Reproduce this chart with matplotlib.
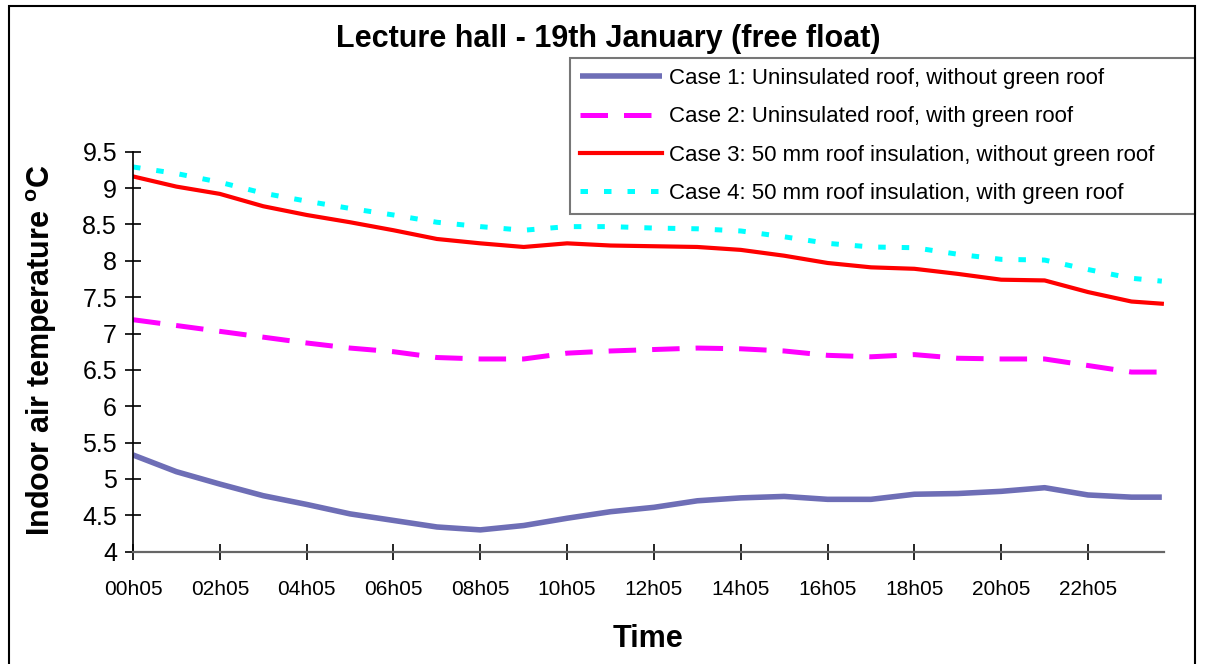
"""Lecture hall free-float indoor temperature, 19th January - four roof cases."""
import matplotlib
matplotlib.use("Agg")
import matplotlib.pyplot as plt
from matplotlib.patches import Rectangle

plt.rcParams["font.family"] = ["Liberation Sans", "DejaVu Sans"]
plt.rcParams["mathtext.fontset"] = "custom"
plt.rcParams["mathtext.rm"] = "Liberation Sans"
plt.rcParams["mathtext.bf"] = "Liberation Sans:bold"

# hours after 00h05 (roughly hourly)
hours = [0, 1, 2, 3, 4, 5, 6, 7, 8, 9, 10, 11, 12, 13, 14, 15, 16, 17,
         18, 19, 20, 21, 22, 23, 23.7]

case1 = [5.33, 5.10, 4.93, 4.77, 4.65, 4.52, 4.43, 4.34, 4.30, 4.36, 4.46,
         4.55, 4.61, 4.70, 4.74, 4.76, 4.72, 4.72, 4.79, 4.80, 4.83, 4.88,
         4.78, 4.75, 4.75]
case2 = [7.19, 7.11, 7.03, 6.95, 6.87, 6.80, 6.75, 6.67, 6.65, 6.65, 6.73,
         6.76, 6.78, 6.80, 6.79, 6.76, 6.70, 6.68, 6.71, 6.66, 6.65, 6.65,
         6.56, 6.47, 6.47]
case3 = [9.16, 9.02, 8.92, 8.75, 8.63, 8.53, 8.42, 8.30, 8.24, 8.19, 8.24,
         8.21, 8.20, 8.19, 8.15, 8.07, 7.97, 7.91, 7.89, 7.82, 7.74, 7.73,
         7.57, 7.44, 7.41]
case4 = [9.29, 9.20, 9.08, 8.93, 8.82, 8.72, 8.63, 8.53, 8.47, 8.42, 8.47,
         8.47, 8.45, 8.44, 8.41, 8.33, 8.24, 8.19, 8.18, 8.09, 8.02, 8.01,
         7.88, 7.76, 7.72]

labels = [
    "Case 1: Uninsulated roof, without green roof",
    "Case 2: Uninsulated roof, with green roof",
    "Case 3: 50 mm roof insulation, without green roof",
    "Case 4: 50 mm roof insulation, with green roof",
]
tick_hours = [0, 2, 4, 6, 8, 10, 12, 14, 16, 18, 20, 22]
tick_labels = ["00h05", "02h05", "04h05", "06h05", "08h05", "10h05",
               "12h05", "14h05", "16h05", "18h05", "20h05", "22h05"]
y_ticks = [4, 4.5, 5, 5.5, 6, 6.5, 7, 7.5, 8, 8.5, 9, 9.5]


def main():
    W, H = 1205, 664
    fig = plt.figure(figsize=(W / 100, H / 100), dpi=100)
    ax = fig.add_axes([133 / W, (H - 551.7) / H, 1031 / W, 400 / H])

    ax.plot(hours, case1, color="#6E6EB6", lw=4.0, label=labels[0],
            solid_capstyle="butt")
    ax.plot(hours, case2, color="#FF00FF", lw=3.6, label=labels[1],
            dashes=(5.5, 3.2), dash_capstyle="butt")
    ax.plot(hours, case3, color="#FF0000", lw=3.0, label=labels[2])
    ax.plot(hours, case4, color="#00FFFF", lw=3.6, label=labels[3],
            dashes=(1.5, 3.2), dash_capstyle="butt")

    ax.set_xlim(0, 23.75)
    ax.set_ylim(4, 9.5)
    ax.set_xticks(tick_hours)
    ax.set_xticklabels(tick_labels)
    ax.set_yticks(y_ticks)
    ax.set_yticklabels([f"{v:g}" for v in y_ticks])
    ax.tick_params(axis="both", direction="inout", length=11, width=1.2,
                   color="black")
    ax.tick_params(axis="x", pad=15, labelsize=15)
    ax.tick_params(axis="y", pad=6, labelsize=18)

    for side in ("top", "right"):
        ax.spines[side].set_visible(False)
    ax.spines["left"].set_linewidth(1.2)
    ax.spines["bottom"].set_linewidth(1.6)
    ax.spines["bottom"].set_color("#666666")

    ax.set_xlabel("Time", fontsize=22, fontweight="bold", labelpad=18)
    fig.text(42 / W, 1 - 350 / H, r"Indoor air temperature $^\mathbf{o}$C",
             rotation=90, fontsize=22, fontweight="bold",
             ha="center", va="center")
    fig.text(608 / W, 1 - 39 / H, "Lecture hall - 19th January (free float)",
             fontsize=22, fontweight="bold", ha="center", va="center")

    leg = ax.legend(loc="upper left",
                    bbox_to_anchor=(570 / W, 1 - 58 / H, 625 / W, 0.0),
                    bbox_transform=fig.transFigure, mode="expand",
                    fontsize=16, frameon=True, fancybox=False,
                    handlelength=3.7, handletextpad=0.3, labelspacing=0.78,
                    borderpad=0.45, borderaxespad=0)
    leg.get_frame().set_edgecolor("#555555")
    leg.get_frame().set_linewidth(1.5)

    # outer chart-area frame
    fig.patches.append(Rectangle((9 / W, -0.05), 1186 / W, 1 - 6 / H + 0.05,
                                 transform=fig.transFigure, fill=False,
                                 edgecolor="black", lw=1.5))

    fig.savefig("out.png", dpi=100)
    plt.close(fig)


if __name__ == "__main__":
    main()
